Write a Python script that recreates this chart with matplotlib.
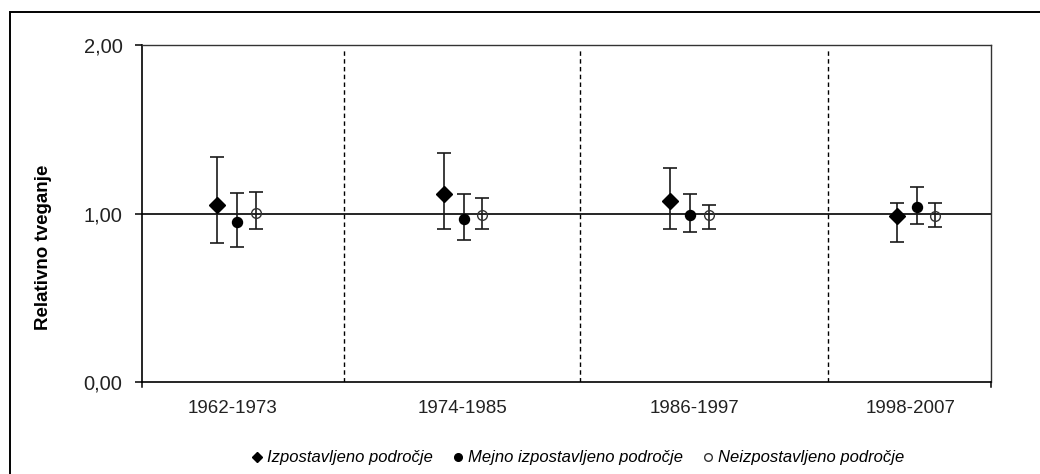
import matplotlib
matplotlib.use("Agg")
import matplotlib.pyplot as plt
from matplotlib.lines import Line2D
from matplotlib.patches import Rectangle

plt.rcParams["font.family"] = ["Liberation Sans", "DejaVu Sans"]

# ------------------------------------------------------------------
# Data
# ------------------------------------------------------------------
periods = ["1962-1973", "1974-1985", "1986-1997", "1998-2007"]

exposed = [1.050, 1.116, 1.074, 0.985]
exposed_lo = [0.827, 0.906, 0.906, 0.832]
exposed_hi = [1.333, 1.357, 1.268, 1.060]

border = [0.950, 0.965, 0.989, 1.036]
border_lo = [0.800, 0.841, 0.890, 0.937]
border_hi = [1.123, 1.116, 1.115, 1.155]

unexposed = [1.005, 0.991, 0.989, 0.985]
unexposed_lo = [0.906, 0.906, 0.906, 0.921]
unexposed_hi = [1.130, 1.090, 1.050, 1.060]

series_labels = ["Izpostavljeno področje",
                 "Mejno izpostavljeno področje",
                 "Neizpostavljeno področje"]

# ------------------------------------------------------------------
# Layout
# ------------------------------------------------------------------
group_x = [1, 2, 3, 4]
offsets = [-0.088, 0.0, 0.082]
label_x = [0.977, 1.993, 3.017, 3.975]
divider_x = [1.471, 2.513, 3.609]

fig = plt.figure(figsize=(10.4, 4.74), dpi=100)
ax = fig.add_axes([142 / 1040, 1 - 382 / 474, 849 / 1040, 337 / 474])

# outer frame (cropped at right and bottom in the reference)
fig.patches.append(Rectangle((10 / 1040, -0.2), 1.2, 0.2 + 1 - 12 / 474,
                             transform=fig.transFigure, fill=False,
                             edgecolor="black", linewidth=1.4))

series = [
    (exposed, exposed_lo, exposed_hi, dict(marker="D", ms=8.0, mfc="black", mec="black")),
    (border, border_lo, border_hi, dict(marker="o", ms=7.2, mfc="black", mec="black")),
    (unexposed, unexposed_lo, unexposed_hi, dict(marker="o", ms=7.0, mfc="none", mec="#333333", mew=1.0)),
]

for (vals, lo, hi, style), off, lab in zip(series, offsets, series_labels):
    xs = [g + off for g in group_x]
    yerr = [[v - l for v, l in zip(vals, lo)], [h - v for v, h in zip(vals, hi)]]
    ax.errorbar(xs, vals, yerr=yerr, fmt="none", ecolor="#1a1a1a",
                elinewidth=1.2, capsize=5, capthick=1.2, zorder=3)
    ax.plot(xs, vals, linestyle="none", label=lab, zorder=4, **style)

# reference line at 1 and period dividers
ax.axhline(1.0, color="black", linewidth=1.2, zorder=2)
ax.vlines(divider_x, 0, 1.97, colors="black", linewidth=1.0,
          linestyles=(0, (3.2, 2.4)), zorder=1)

ax.set_xlim(0.579, 4.328)
ax.set_ylim(0, 2)
ax.set_yticks([0, 1, 2])
ax.set_yticklabels(["0,00", "1,00", "2,00"], fontsize=14.5, color="#222222")
ax.tick_params(axis="y", direction="out", length=5, width=1.1, pad=9)
ax.set_xticks(label_x)
ax.set_xticklabels(periods, fontsize=13.5, color="#222222")
ax.tick_params(axis="x", length=0, pad=13)

# small end ticks below the x-axis
for xe in (0.0, 1.0):
    ax.plot([xe, xe], [0, -0.016], transform=ax.transAxes, color="black",
            linewidth=1.1, clip_on=False)

for side in ("left", "bottom"):
    ax.spines[side].set_color("black")
    ax.spines[side].set_linewidth(1.2)
for side in ("top", "right"):
    ax.spines[side].set_color("#333333")
    ax.spines[side].set_linewidth(1.0)

ax.set_ylabel("Relativno tveganje", fontsize=13.5, fontweight="bold")
ax.yaxis.set_label_coords(-0.106, 0.40)

leg_handles = [
    Line2D([], [], linestyle="none", marker="D", ms=5.5, mfc="black", mec="black"),
    Line2D([], [], linestyle="none", marker="o", ms=5.5, mfc="black", mec="black"),
    Line2D([], [], linestyle="none", marker="o", ms=5.5, mfc="white", mec="#333333"),
]
fig.legend(leg_handles, series_labels, loc="center", bbox_to_anchor=(0.556, 0.034),
           ncol=3, frameon=False, handlelength=0.6, handletextpad=0.3,
           columnspacing=1.2, prop={"style": "italic", "size": 12})

fig.savefig("out.png", dpi=100)
